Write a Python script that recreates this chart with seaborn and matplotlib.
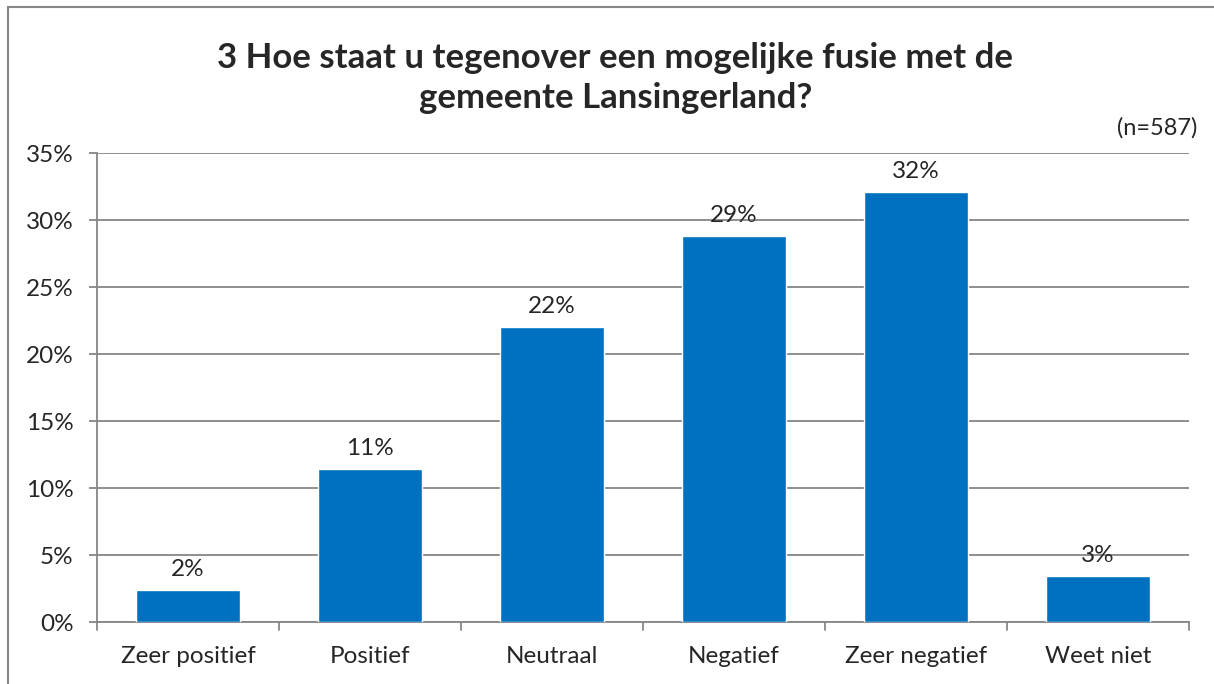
import matplotlib
matplotlib.use("Agg")
import matplotlib.pyplot as plt
import pandas as pd
import seaborn as sb
from matplotlib.patches import Rectangle

categories = ["Zeer positief", "Positief", "Neutraal", "Negatief", "Zeer negatief", "Weet niet"]
percentages = [2.4, 11.4, 22.0, 28.8, 32.1, 3.4]
value_labels = ["2%", "11%", "22%", "29%", "32%", "3%"]
y_ticks = [0, 5, 10, 15, 20, 25, 30, 35]

title = "3 Hoe staat u tegenover een mogelijke fusie met de\ngemeente Lansingerland?"
note = "(n=587)"

sb.set_style("white")
plt.rcParams['font.family'] = ['Lato', 'DejaVu Sans']

df = pd.DataFrame({"categorie": categories, "pct": percentages})

fig = plt.figure(figsize=(12.14, 6.84), dpi=100)
ax = fig.add_axes([0.0799, 0.0906, 0.8995, 0.6857])

sb.barplot(data=df, x="categorie", y="pct", color="#0070C0", width=0.57,
           saturation=1, ax=ax, zorder=3)

ax.set_ylim(0, 35)
ax.set_xlim(-0.5, len(categories) - 0.5)
ax.set_yticks(y_ticks)
ax.set_yticklabels([f"{t}%" for t in y_ticks], fontsize=17.5)
ax.yaxis.grid(True, color="#868686", linewidth=1.3, zorder=0)
ax.set_xlabel("")
ax.set_ylabel("")

# ticks between categories on x, outward ticks on y
ax.set_xticks(range(len(categories)))
ax.set_xticklabels(categories, fontsize=17.5)
ax.tick_params(axis="x", length=0, pad=17)
ax.tick_params(axis="y", length=6, width=1.3, color="#868686", direction="out", pad=11, left=True)
for b in [i - 0.5 for i in range(len(categories) + 1)]:
    ax.plot([b, b], [0, -0.6], color="#868686", lw=1.3, clip_on=False)

for s in ["top", "right"]:
    ax.spines[s].set_visible(False)
for s in ["left", "bottom"]:
    ax.spines[s].set_color("#868686")
    ax.spines[s].set_linewidth(1.3)

for i, (v, lab) in enumerate(zip(percentages, value_labels)):
    ax.text(i, v + 0.75, lab, ha="center", va="bottom", fontsize=17.5)

fig.text(0.507, 0.886, title, ha="center", va="center", fontsize=25,
         fontweight="bold", linespacing=1.3)
fig.text(0.986, 0.813, note, ha="right", va="center", fontsize=17)

fig.patches.append(Rectangle((0.0066, -0.01), 1.0, 1.0, transform=fig.transFigure,
                             fill=False, edgecolor="#868686", linewidth=1.5))

fig.savefig("out.png", dpi=100)
